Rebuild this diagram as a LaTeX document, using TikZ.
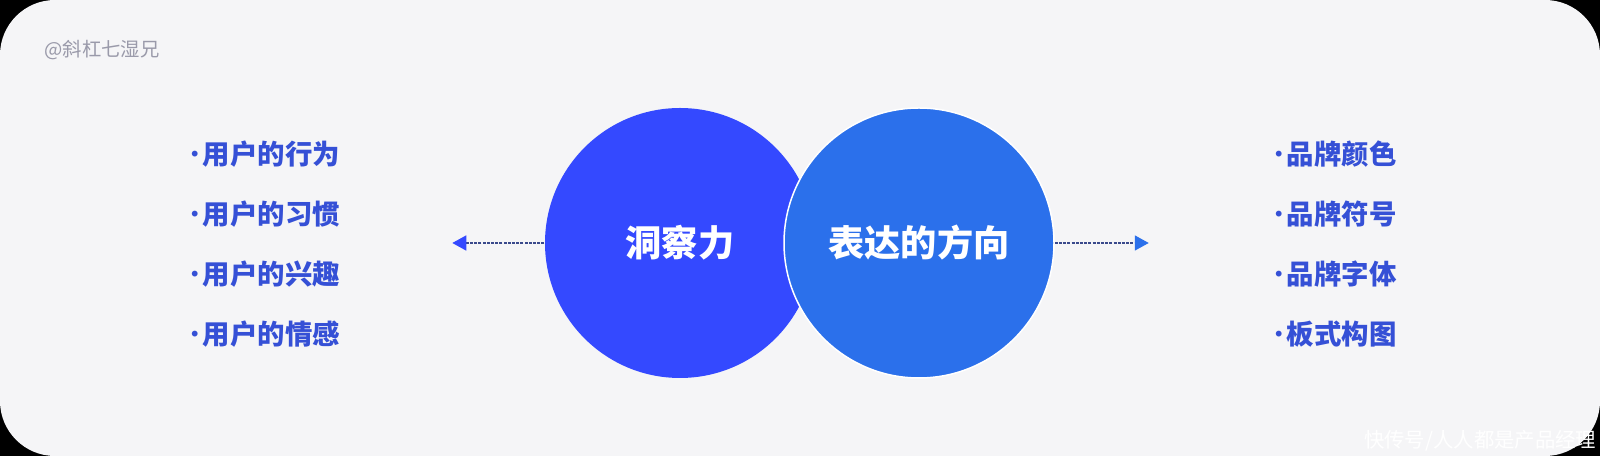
\documentclass[tikz,border=0pt]{standalone}
\usepackage{fontspec}
\newfontfamily\cjk{Noto Sans CJK SC}
\usetikzlibrary{arrows.meta,positioning}
\definecolor{panel}{HTML}{F5F5F7}
\definecolor{insightblue}{HTML}{3449FF}
\definecolor{expressblue}{HTML}{2B70EB}
\definecolor{itemblue}{HTML}{3550D6}
\definecolor{dashgray}{HTML}{3A4A8C}
\definecolor{markgray}{HTML}{9A9AAA}
\newcommand\bulletdot{\makebox[0.55em][c]{\mdseries·}}
\begin{document}
\begin{tikzpicture}[
 x=0.1mm,y=0.1mm,
 node distance=6mm,
 every node/.style={font=\cjk,inner sep=0pt},
 blob/.style={circle,minimum size=27mm,text=white,font=\cjk\bfseries\fontsize{10.3}{12}\selectfont},
 item/.style={anchor=west,text=itemblue,font=\cjk\bfseries\fontsize{7.8}{9}\selectfont},
 arr/.style={dash pattern=on 0.3mm off 0.12mm,draw=dashgray,line width=0.16mm,
   -{Triangle[length=1.4mm,width=1.5mm,fill=#1,color=#1]}}
]
 % frame
 \fill[black] (0,0) rectangle (1600,456);
 \fill[panel,rounded corners=5.5mm] (0,0) rectangle (1600,456);
 \useasboundingbox (0,0) rectangle (1600,456);
 \node[anchor=west,text=markgray,font=\cjk\fontsize{5.5}{6}\selectfont] (sign) at (44,406) {@斜杠七湿兄};
 \node[anchor=east,text=white,font=\cjk\fontsize{5.8}{6}\selectfont] (stamp) at (1597,15) {快传号/人人都是产品经理};
 % circles
 \node[blob,fill=insightblue] (insight) at (680,213) {洞察力};
 \node[blob,fill=expressblue,draw=white,line width=0.15mm] (express) at (919,213) {表达的方向};
 \coordinate[left=9.2mm of insight] (lefttip);
 \coordinate[right=9.4mm of express] (righttip);
 \draw[arr=insightblue] (insight) -- (lefttip);
 \draw[arr=expressblue] (express) -- (righttip);
 % left list
 \node[item] (u1) at (187,302) {\bulletdot 用户的行为};
 \node[item,below=of u1.west,on grid,anchor=west] (u2) {\bulletdot 用户的习惯};
 \node[item,below=of u2.west,on grid,anchor=west] (u3) {\bulletdot 用户的兴趣};
 \node[item,below=of u3.west,on grid,anchor=west] (u4) {\bulletdot 用户的情感};
 % right list
 \node[item] (b1) at (1271,302) {\bulletdot 品牌颜色};
 \node[item,below=of b1.west,on grid,anchor=west] (b2) {\bulletdot 品牌符号};
 \node[item,below=of b2.west,on grid,anchor=west] (b3) {\bulletdot 品牌字体};
 \node[item,below=of b3.west,on grid,anchor=west] (b4) {\bulletdot 板式构图};
\end{tikzpicture}
\end{document}
